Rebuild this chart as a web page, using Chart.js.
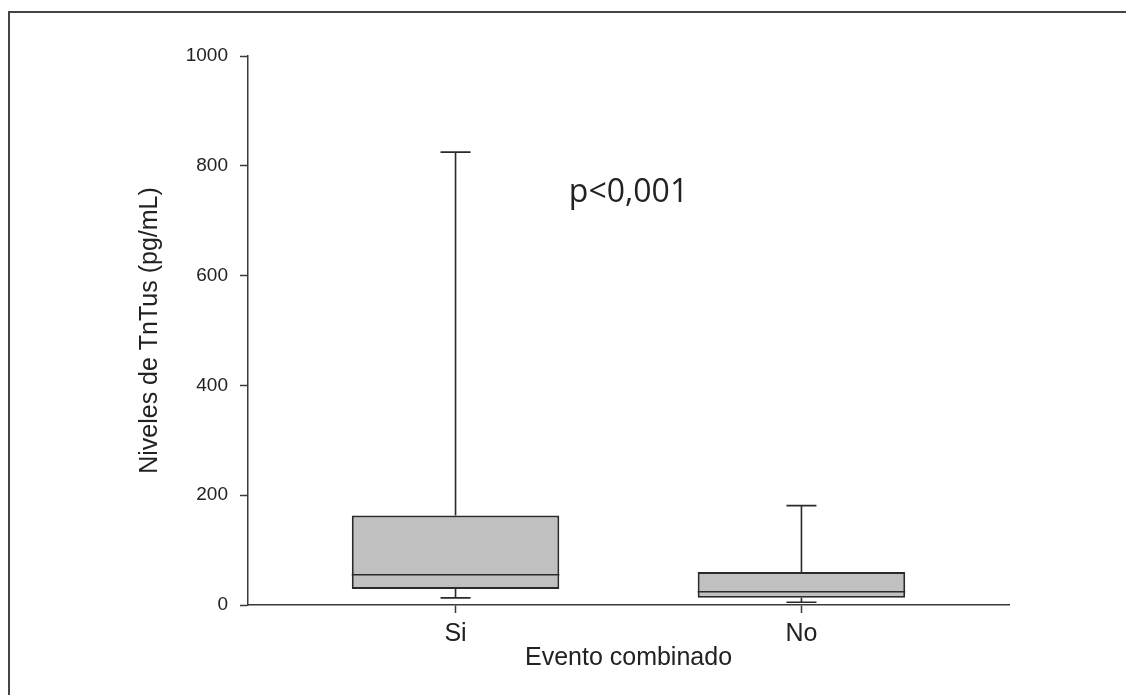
<!DOCTYPE html>
<html>
<head>
<meta charset="utf-8">
<script src="https://cdn.jsdelivr.net/npm/chart.js@4"></script>
<style>
  html, body { margin: 0; padding: 0; background: #fff; overflow: hidden; }
  #wrap { position: relative; width: 1126px; height: 695px; }
  #frame { position: absolute; left: 8px; top: 11px; width: 1200px; height: 800px;
           border-left: 2px solid #444; border-top: 2px solid #444; pointer-events: none; }
</style>
</head>
<body>
<div id="wrap">
  <canvas id="myChart" width="1126" height="695"></canvas>
  <div id="frame"></div>
</div>
<script>
// categorias y estadisticos de cada caja (pg/mL)
const categories = ["Si", "No"];
const xPositions = [1, 2];
const lowerWhisker = [13, 5];
const q1 = [29, 13];
const median = [55, 24];
const q3 = [163, 60];
const upperWhisker = [825, 181];

const yTicks = [0, 200, 400, 600, 800, 1000];
const pText = "p<0,001";
const pPos = { x: 1.5, y: 750 };

const axisColor = "#3a3a3a";
const lineColor = "#2a2a2a";

// bigotes, mediana y texto del p-valor
const boxPlugin = {
  id: "boxWhiskers",
  afterDatasetsDraw(chart) {
    const ctx = chart.ctx;
    const xs = chart.scales.x;
    const ys = chart.scales.y;
    const meta = chart.getDatasetMeta(0);
    ctx.save();
    ctx.strokeStyle = lineColor;
    ctx.lineWidth = 1.6;
    for (let i = 0; i < xPositions.length; i++) {
      const px = xs.getPixelForValue(xPositions[i]);
      const half = meta.data[i].width / 2;
      const cap = 15;
      const yMed = ys.getPixelForValue(median[i]);
      const yQ1 = ys.getPixelForValue(q1[i]);
      const yQ3 = ys.getPixelForValue(q3[i]);
      const yLo = ys.getPixelForValue(lowerWhisker[i]);
      const yHi = ys.getPixelForValue(upperWhisker[i]);
      ctx.beginPath();
      // mediana
      ctx.moveTo(px - half, yMed); ctx.lineTo(px + half, yMed);
      // bigote superior
      ctx.moveTo(px, yQ3); ctx.lineTo(px, yHi);
      ctx.moveTo(px - cap, yHi); ctx.lineTo(px + cap, yHi);
      // bigote inferior
      ctx.moveTo(px, yQ1); ctx.lineTo(px, yLo);
      ctx.moveTo(px - cap, yLo); ctx.lineTo(px + cap, yLo);
      ctx.stroke();
    }
    ctx.fillStyle = "#222";
    ctx.font = "32px 'Open Sans'";
    ctx.textAlign = "center";
    ctx.textBaseline = "middle";
    ctx.fillText(pText, xs.getPixelForValue(pPos.x), ys.getPixelForValue(pPos.y));
    ctx.restore();
  }
};

const data = {
  datasets: [
    {
      label: "Evento combinado",
      data: xPositions.map((x, i) => ({ x: x, y: [q1[i], q3[i]] })),
      backgroundColor: "#c0c0c0",
      borderColor: lineColor,
      borderWidth: 2,
      borderSkipped: false,
      barPercentage: 0.6,
      categoryPercentage: 1,
    },
  ],
};

const config = {
  type: "bar",
  data: data,
  options: {
    responsive: false,
    animation: false,
    layout: { padding: { left: 0, top: 56, right: 117, bottom: 0 } },
    plugins: {
      legend: { display: false },
      tooltip: { enabled: false },
    },
    scales: {
      x: {
        type: "linear",
        min: 0.4,
        max: 2.6,
        offset: false,
        afterBuildTicks: (scale) => {
          scale.ticks = xPositions.map((v) => ({ value: v }));
        },
        afterFit: (scale) => { scale.height = 90; },
        ticks: {
          callback: (v) => categories[xPositions.indexOf(v)],
          font: { family: "'Liberation Sans', Arial, sans-serif", size: 25 },
          color: "#222",
          padding: 6,
          maxRotation: 0,
        },
        grid: {
          offset: false,
          drawOnChartArea: false,
          drawTicks: true,
          tickLength: 8,
          tickColor: axisColor,
          tickWidth: 1.5,
        },
        border: { display: true, color: axisColor, width: 1.5 },
        title: {
          display: true,
          text: "Evento combinado",
          font: { family: "'Liberation Sans', Arial, sans-serif", size: 25 },
          color: "#222",
          padding: { top: 0, bottom: 22 },
        },
      },
      y: {
        min: 0,
        max: 1000,
        afterBuildTicks: (scale) => {
          scale.ticks = yTicks.map((v) => ({ value: v }));
        },
        afterFit: (scale) => { scale.width = 248; },
        ticks: {
          callback: (v) => String(v),
          font: { family: "'Liberation Sans', Arial, sans-serif", size: 19 },
          color: "#222",
          padding: 12,
        },
        grid: {
          drawOnChartArea: false,
          drawTicks: true,
          tickLength: 8,
          tickColor: axisColor,
          tickWidth: 1.5,
        },
        border: { display: true, color: axisColor, width: 1.5 },
        title: {
          display: true,
          text: "Niveles de TnTus (pg/mL)",
          font: { family: "'Liberation Sans', Arial, sans-serif", size: 25 },
          color: "#222",
          padding: { top: 135, bottom: 0 },
        },
      },
    },
  },
  plugins: [boxPlugin],
};

const context = document.getElementById("myChart").getContext("2d");
const chart = new Chart(context, config);
</script>
</body>
</html>
